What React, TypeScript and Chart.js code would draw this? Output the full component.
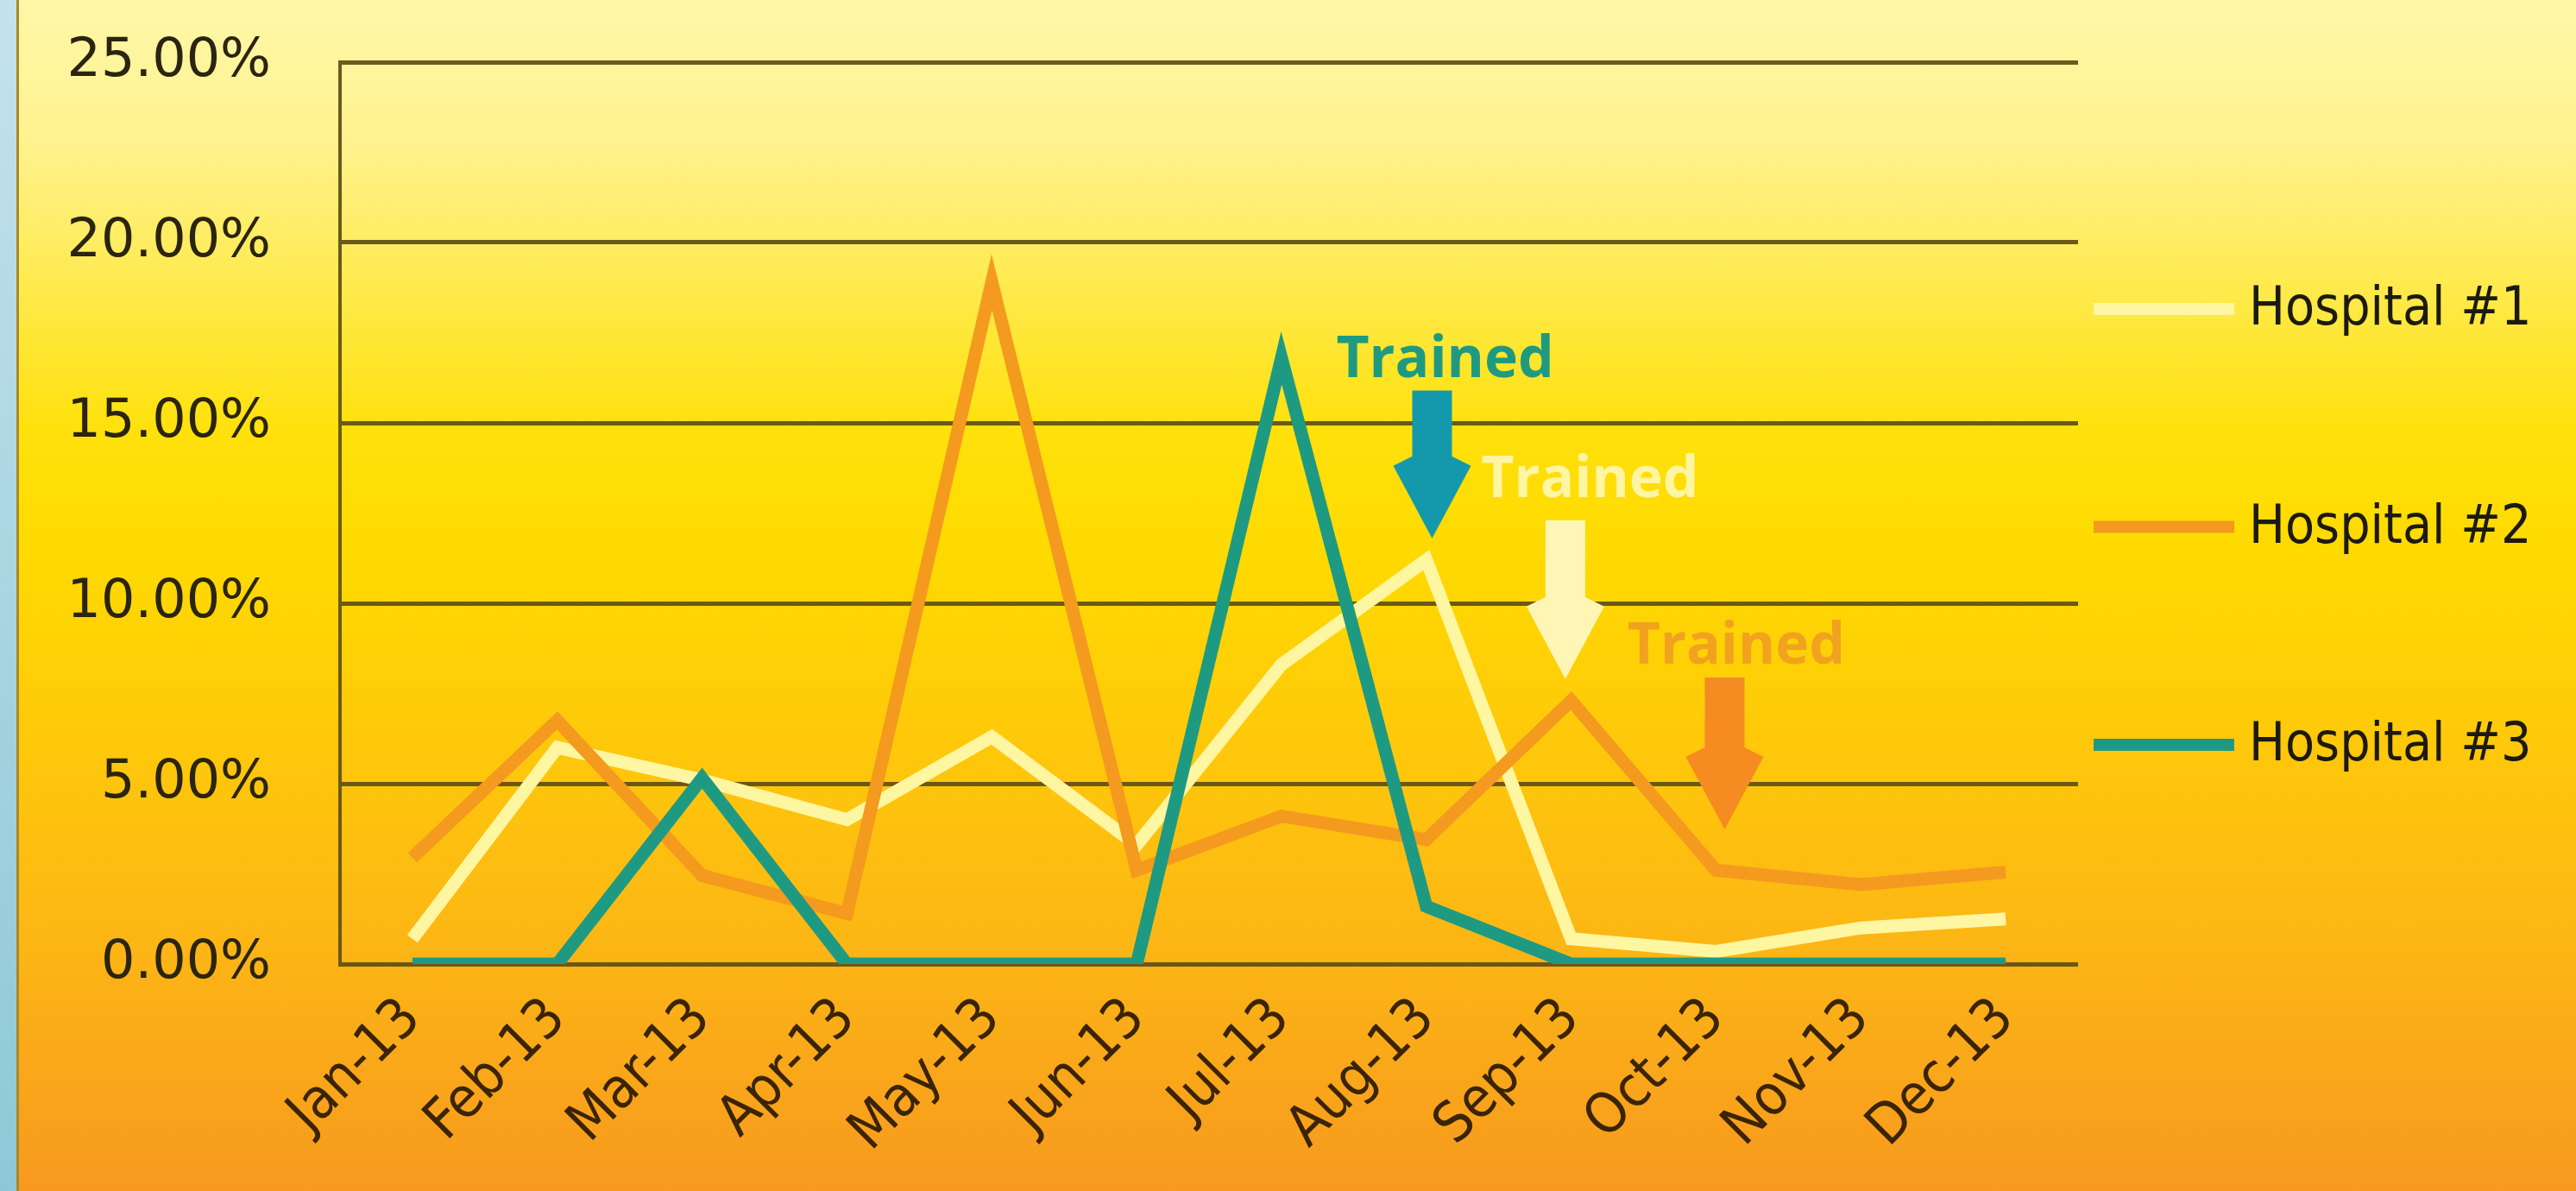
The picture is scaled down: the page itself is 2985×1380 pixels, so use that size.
import React, { useEffect, useRef } from 'react';
import { Chart, registerables } from 'chart.js';

Chart.register(...registerables);

const months = ['Jan-13', 'Feb-13', 'Mar-13', 'Apr-13', 'May-13', 'Jun-13', 'Jul-13', 'Aug-13', 'Sep-13', 'Oct-13', 'Nov-13', 'Dec-13'];
const hospital1 = [0.7, 6.0, 5.1, 4.0, 6.3, 3.3, 8.3, 11.2, 0.7, 0.35, 1.0, 1.25];
const hospital2 = [2.95, 6.75, 2.45, 1.4, 18.9, 2.6, 4.1, 3.45, 7.3, 2.6, 2.2, 2.55];
const hospital3 = [0, 0, 5.15, 0, 0, 0, 16.8, 1.6, 0, 0, 0, 0];
const seriesNames = ['Hospital #1', 'Hospital #2', 'Hospital #3'];
const seriesColors = ['#FFF6A2', '#F49A1E', '#1F9A82'];
const yMin = 0;
const yMax = 25;
const yStep = 5;

// "Trained" annotations (one per hospital)
const trainedLabel = 'Trained';
const trainedTextColors = ['rgba(255,247,180,0.9)', '#F1A21E', '#1F9A80'];
const trainedArrowColors = ['#FFF6B6', '#F68B22', '#1499AC'];
const trainedTextCategory = [8.13, 9.14, 7.13];
const trainedTextValue = [12.94, 8.32, 16.27];
const arrowCategory = [7.96, 9.06, 7.04];
const arrowTopValue = [12.3, 7.94, 15.9];
const arrowTipValue = [7.9, 3.73, 11.8];

const FONT = "'DejaVu Sans Condensed', 'DejaVu Sans', sans-serif";
const TICK_FONT = "'DejaVu Sans', sans-serif";
const BOLD_FONT = "'Open Sans', 'DejaVu Sans', sans-serif";

const backgroundPlugin = {
  id: 'bgPlugin',
  beforeDraw(chart: any) {
    const { ctx, width, height } = chart;
    ctx.save();
    const g = ctx.createLinearGradient(0, 0, 0, height);
    g.addColorStop(0, '#FFF7A8');
    g.addColorStop(0.12, '#FFF28E');
    g.addColorStop(0.24, '#FFEA4E');
    g.addColorStop(0.36, '#FFE10C');
    g.addColorStop(0.46, '#FFDA00');
    g.addColorStop(0.62, '#FFC90A');
    g.addColorStop(0.8, '#FCB515');
    g.addColorStop(1, '#F7991F');
    ctx.fillStyle = g;
    ctx.fillRect(0, 0, width, height);
    const b = ctx.createLinearGradient(0, 0, 0, height);
    b.addColorStop(0, '#C4E2EC');
    b.addColorStop(1, '#8EC8D6');
    ctx.fillStyle = b;
    ctx.fillRect(0, 0, 19, height);
    ctx.fillStyle = '#A8892A';
    ctx.fillRect(19, 0, 3, height);
    ctx.restore();
  },
};

const annotationPlugin = {
  id: 'trainedPlugin',
  afterDatasetsDraw(chart: any) {
    const { ctx } = chart;
    const xs = chart.scales.x;
    const ys = chart.scales.y;
    ctx.save();
    for (let i = 0; i < arrowCategory.length; i++) {
      const cx = xs.getPixelForValue(arrowCategory[i]);
      const top = ys.getPixelForValue(arrowTopValue[i]);
      const tip = ys.getPixelForValue(arrowTipValue[i]);
      const shaftHalf = 23;
      const headHalf = 45;
      const wide = tip - 84;
      const start = tip - 95;
      ctx.fillStyle = trainedArrowColors[i];
      ctx.beginPath();
      ctx.moveTo(cx - shaftHalf, top);
      ctx.lineTo(cx - shaftHalf, start);
      ctx.lineTo(cx - headHalf, wide);
      ctx.lineTo(cx, tip);
      ctx.lineTo(cx + headHalf, wide);
      ctx.lineTo(cx + shaftHalf, start);
      ctx.lineTo(cx + shaftHalf, top);
      ctx.closePath();
      ctx.fill();

      const tx = xs.getPixelForValue(trainedTextCategory[i]);
      const ty = ys.getPixelForValue(trainedTextValue[i]);
      ctx.font = `bold 66px ${BOLD_FONT}`;
      ctx.fillStyle = trainedTextColors[i];
      ctx.textAlign = 'center';
      ctx.textBaseline = 'alphabetic';
      ctx.fillText(trainedLabel, tx, ty);
    }
    ctx.restore();
  },
};

const legendPlugin = {
  id: 'sideLegend',
  afterDraw(chart: any) {
    const { ctx, chartArea } = chart;
    ctx.save();
    const x0 = chartArea.right + 18;
    chart.data.datasets.forEach((ds: any, i: number) => {
      const y = chartArea.top + 286 + i * 252.5;
      ctx.strokeStyle = ds.borderColor;
      ctx.lineWidth = 14;
      ctx.lineCap = 'butt';
      ctx.beginPath();
      ctx.moveTo(x0, y);
      ctx.lineTo(x0 + 163, y);
      ctx.stroke();
      ctx.font = `62px ${FONT}`;
      ctx.fillStyle = '#1C1A10';
      ctx.textAlign = 'left';
      ctx.textBaseline = 'middle';
      ctx.fillText(ds.label, x0 + 180, y + 2);
    });
    ctx.restore();
  },
};

export default function App() {
  const canvasRef = useRef<HTMLCanvasElement | null>(null);

  useEffect(() => {
    if (!canvasRef.current) return;
    const gridColor = 'rgba(100,82,22,0.95)';
    const chart = new Chart(canvasRef.current, {
      type: 'line',
      data: {
        labels: months,
        datasets: [
          { label: seriesNames[0], data: hospital1, borderColor: seriesColors[0], backgroundColor: seriesColors[0], order: 2 },
          { label: seriesNames[1], data: hospital2, borderColor: seriesColors[1], backgroundColor: seriesColors[1], order: 1 },
          { label: seriesNames[2], data: hospital3, borderColor: seriesColors[2], backgroundColor: seriesColors[2], order: 0 },
        ],
      },
      options: {
        animation: false,
        responsive: false,
        devicePixelRatio: 1,
        layout: { padding: { top: 72, right: 577, bottom: 0, left: 0 } },
        elements: {
          line: { borderWidth: 15, tension: 0, borderJoinStyle: 'miter', borderCapStyle: 'butt', fill: false },
          point: { radius: 0, hoverRadius: 0 },
        },
        plugins: {
          legend: { display: false },
          tooltip: { enabled: false },
          title: { display: false },
        },
        scales: {
          x: {
            type: 'category',
            offset: true,
            grid: { display: false },
            border: { display: false },
            ticks: {
              minRotation: 45,
              maxRotation: 45,
              autoSkip: false,
              padding: 18,
              color: '#3A2404',
              font: { family: FONT, size: 65 },
            },
            afterFit(scale: any) {
              scale.height = 263;
            },
          },
          y: {
            min: yMin,
            max: yMax,
            ticks: {
              stepSize: yStep,
              padding: 80,
              color: '#2A2410',
              font: { family: TICK_FONT, size: 62 },
              callback: (v: any) => Number(v).toFixed(2) + '%',
            },
            grid: { color: gridColor, lineWidth: 5, drawTicks: false },
            border: { display: true, color: gridColor, width: 4 },
            afterFit(scale: any) {
              scale.width = 394;
              scale.paddingTop = 20;
              scale.paddingBottom = 20;
            },
          },
        },
      },
      plugins: [backgroundPlugin, annotationPlugin, legendPlugin],
    } as any);
    return () => chart.destroy();
  }, []);

  return (
    <div style={{ position: 'fixed', left: 0, top: 0, width: 2985, height: 1380, overflow: 'hidden' }}>
      <canvas ref={canvasRef} width={2985} height={1380} style={{ display: 'block', width: 2985, height: 1380 }} />
    </div>
  );
}
